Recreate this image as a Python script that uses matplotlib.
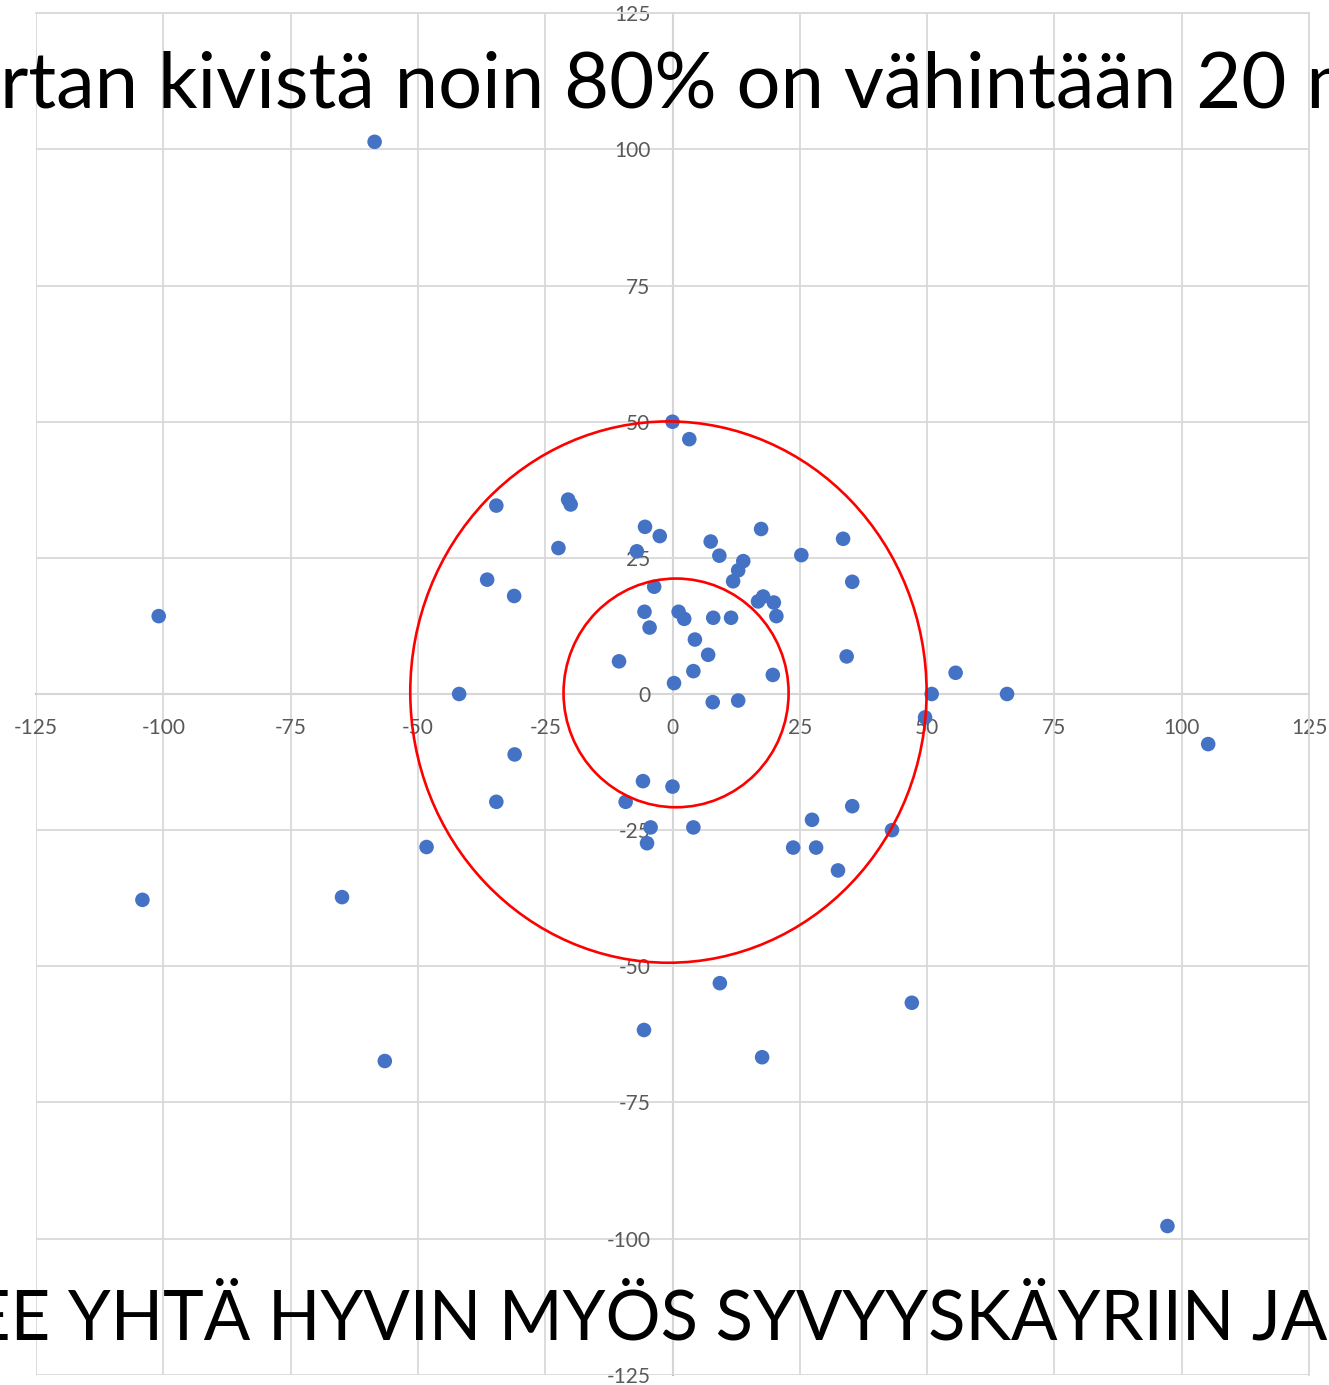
import matplotlib as mpl
import matplotlib.pyplot as plt
from matplotlib.patches import Ellipse

# Stone offsets (m)
x_vals = [-58.5, 0.0, 3.3, -34.6, -20.5, -20.0, -5.4, -2.5, -22.4, -7.0,
          -36.4, -31.1, -3.6, -5.5, 1.2, 2.3, -4.5, 4.4, -10.5, 4.1,
          0.3, -41.9, 17.4, 7.5, 9.2, 25.3, 33.5, 13.9, 12.9, 11.9,
          35.3, 17.8, 16.8, 19.9, 20.4, 8.0, 11.5, 7.0, 34.2, 19.7,
          55.6, 50.9, 7.9, 12.9, -31.0, -34.6, -5.8, 0.0, -9.2, -4.3,
          4.1, -5.0, -48.3, 49.6, 35.3, 27.4, 43.1, 23.7, 28.2, 32.5,
          9.3, -100.9, 65.7, 105.2, -104.1, -64.9, 47.0, -5.6, 17.6, -56.5,
          97.2]
y_vals = [101.4, 50.0, 46.8, 34.6, 35.7, 34.8, 30.7, 29.0, 26.8, 26.2,
          21.0, 18.0, 19.7, 15.1, 15.1, 13.8, 12.2, 10.0, 6.0, 4.2,
          2.0, 0.0, 30.3, 28.0, 25.4, 25.5, 28.5, 24.4, 22.7, 20.7,
          20.6, 17.9, 17.0, 16.8, 14.3, 14.0, 14.0, 7.2, 6.9, 3.5,
          3.9, 0.0, -1.5, -1.2, -11.1, -19.8, -16.0, -17.0, -19.8, -24.5,
          -24.5, -27.4, -28.1, -4.3, -20.6, -23.1, -25.0, -28.2, -28.2, -32.4,
          -53.1, 14.3, 0.0, -9.2, -37.8, -37.3, -56.7, -61.7, -66.7, -67.4,
          -97.7]

# Red reference rings
ring_cx = [-0.8, 0.7]
ring_cy = [0.35, 0.2]
ring_rx = [50.7, 22.1]
ring_ry = [49.7, 21.0]

ticks = [-125, -100, -75, -50, -25, 0, 25, 50, 75, 100, 125]
title_text = "rtan kivistä noin 80% on vähintään 20 m"
bottom_text = "EE YHTÄ HYVIN MYÖS SYVYYSKÄYRIIN JA"

mpl.rcParams['font.family'] = ['Lato', 'DejaVu Sans']
mpl.rcParams['axes.unicode_minus'] = False

W, H = 1329, 1385
fig = plt.figure(figsize=(W / 100, H / 100), dpi=100)
ax = fig.add_axes([36 / W, 10.3 / H, 1273 / W, 1361.4 / H])

ax.set_xlim(-125, 125)
ax.set_ylim(-125, 125)
ax.set_xticks(ticks)
ax.set_yticks(ticks)
ax.set_xticklabels([str(t) for t in ticks])
ax.set_yticklabels([str(t) for t in ticks])
ax.grid(True, color='#d9d9d9', lw=1.3, zorder=0)
ax.set_axisbelow(True)

# axes crossing at zero, Excel style
ax.spines['left'].set_position(('data', 0))
ax.spines['bottom'].set_position(('data', 0))
for s in ['left', 'bottom']:
    ax.spines[s].set_color('#bfbfbf')
    ax.spines[s].set_linewidth(1.5)
    ax.spines[s].set_zorder(0.5)
for s in ['top', 'right']:
    ax.spines[s].set_color('#d9d9d9')
    ax.spines[s].set_linewidth(1.3)
ax.tick_params(axis='both', length=0, labelsize=15, labelcolor='#595959')
ax.tick_params(axis='x', pad=17)
ax.tick_params(axis='y', pad=16)

ax.scatter(x_vals, y_vals, s=110, color='#4472c4', edgecolors='none', zorder=3)

for cx, cy, rx, ry in zip(ring_cx, ring_cy, ring_rx, ring_ry):
    ax.add_patch(Ellipse((cx, cy), 2 * rx, 2 * ry, facecolor='none',
                         edgecolor='#ff0000', lw=1.9, zorder=4))

fig.text(0 / W, 1 - 108 / H, title_text, ha='left', va='baseline',
         fontsize=56, color='black', zorder=10)
fig.text(-29 / W, 1 - 1340 / H, bottom_text, ha='left', va='baseline',
         fontsize=49.5, color='black', zorder=10)

plt.savefig('out.png', dpi=100)
plt.close(fig)
